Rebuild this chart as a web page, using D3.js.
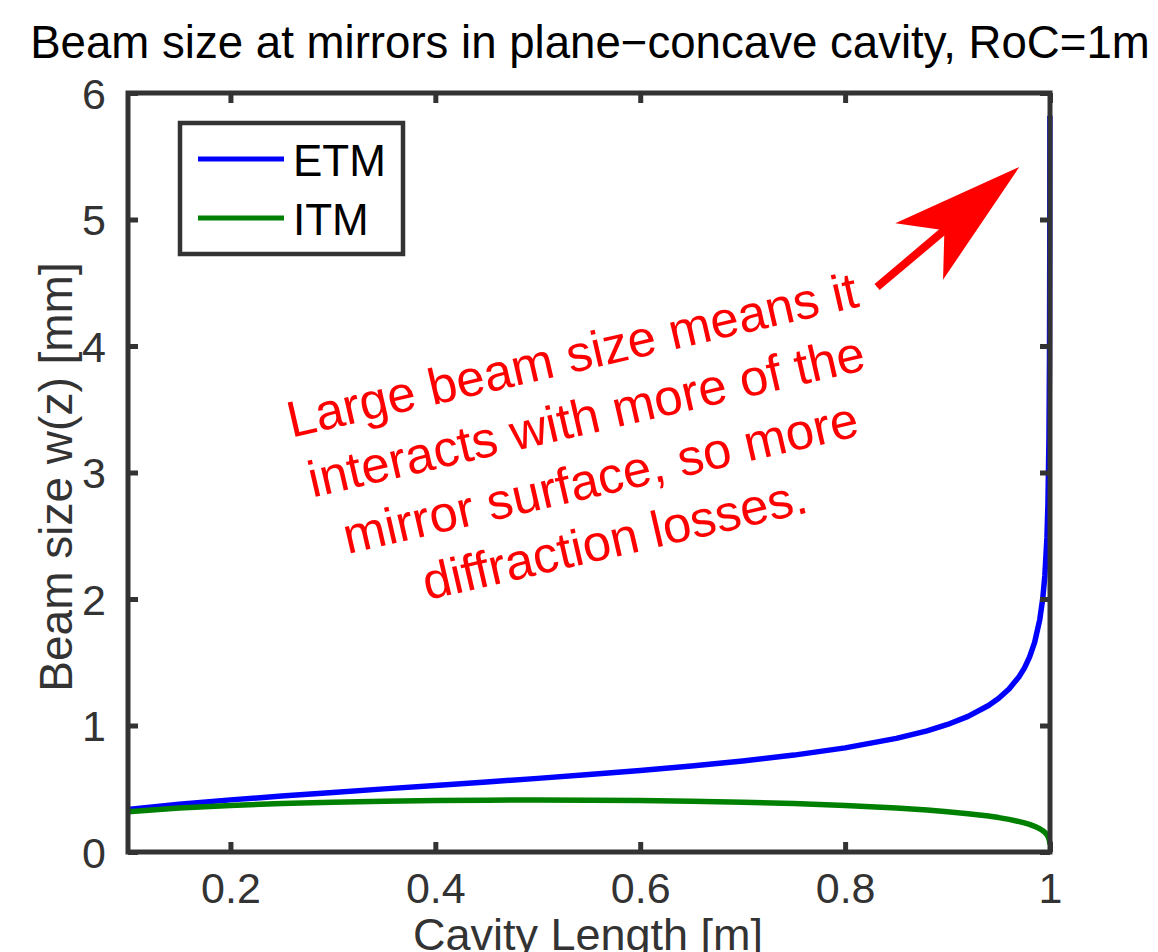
<!DOCTYPE html>
<html><head><meta charset="utf-8">
<script src="https://cdn.jsdelivr.net/npm/d3@7"></script>
<style>body{margin:0;background:#fff}svg{display:block}text{font-family:"Liberation Sans",Arial,sans-serif}</style>
</head><body><svg id="c" width="1158" height="952"></svg>
<script>
// Cavity length samples [m]
const cavityLength = [0.10,0.15,0.20,0.25,0.30,0.35,0.40,0.45,0.50,0.55,0.60,0.65,0.70,0.75,0.80,0.85,0.88,0.90,0.92,0.94,0.95,0.96,0.97,0.975,0.98,0.985,0.99,0.993,0.995,0.997,0.998,0.999,0.9995,0.9998,0.9999];
// Beam size at ETM [mm]
const etmSize = [0.336,0.377,0.412,0.442,0.471,0.499,0.526,0.554,0.582,0.612,0.644,0.679,0.719,0.766,0.823,0.898,0.958,1.008,1.072,1.158,1.215,1.288,1.388,1.454,1.540,1.657,1.836,2.009,2.186,2.485,2.751,3.272,3.892,4.894,5.82];
// Beam size at ITM [mm]
const itmSize = [0.319,0.348,0.368,0.383,0.394,0.402,0.407,0.410,0.412,0.410,0.407,0.402,0.394,0.383,0.368,0.348,0.332,0.319,0.303,0.284,0.272,0.258,0.240,0.230,0.218,0.203,0.184,0.168,0.155,0.136,0.123,0.103,0.087,0.069,0.058];
const seriesNames = ["ETM","ITM"];
const seriesColors = ["#0000ff","#008000"];
const xTicks = [0.2,0.4,0.6,0.8,1];
const yTicks = [0,1,2,3,4,5,6];
const titleText = "Beam size at mirrors in plane\u2212concave cavity, RoC=1m";
const xLabel = "Cavity Length [m]";
const yLabel = "Beam size w(z) [mm]";
const noteLines = ["Large beam size means it","interacts with more of the","mirror surface, so more","diffraction losses."];
const arrowFrom = [0.8312, 4.466];
const arrowTo = [0.970, 5.415];

const svg = d3.select("#c");
const L = 128, R = 1050, T = 93, B = 852;
const x = d3.scaleLinear().domain([0.1,1]).range([L,R]);
const y = d3.scaleLinear().domain([0,6]).range([B,T]);
const axisCol = "#333";

// title
const title = svg.append("text").attr("x",(30+1150)/2).attr("y",58).attr("text-anchor","middle")
  .attr("fill","#000").attr("font-size",36).text(titleText);
const tw = title.node().getComputedTextLength();
title.attr("font-size", 36*1120/tw);

// series
const series = [etmSize, itmSize];
const line = d3.line().x(d=>x(d[0])).y(d=>y(d[1]));
series.forEach((vals,i)=>{
  svg.append("path").datum(cavityLength.map((c,j)=>[c,vals[j]]))
    .attr("d",line).attr("fill","none").attr("stroke",seriesColors[i])
    .attr("stroke-width",5.5).attr("stroke-linejoin","round");
});

// axes
const tickLen = 10;
const gx = svg.append("g").attr("transform",`translate(0,${B})`)
  .call(d3.axisBottom(x).tickValues(xTicks).tickFormat(d3.format("")).tickSizeInner(-tickLen).tickSizeOuter(0).tickPadding(20));
const gxt = svg.append("g").attr("transform",`translate(0,${T})`)
  .call(d3.axisTop(x).tickValues(xTicks).tickFormat("").tickSizeInner(-tickLen).tickSizeOuter(0));
const gy = svg.append("g").attr("transform",`translate(${L},0)`)
  .call(d3.axisLeft(y).tickValues(yTicks).tickFormat(d3.format("d")).tickSizeInner(-tickLen).tickSizeOuter(0).tickPadding(22));
const gyr = svg.append("g").attr("transform",`translate(${R},0)`)
  .call(d3.axisRight(y).tickValues(yTicks).tickFormat("").tickSizeInner(-tickLen).tickSizeOuter(0));
[gx,gxt,gy,gyr].forEach(g=>{
  g.select(".domain").remove();
  g.selectAll(".tick line").attr("stroke",axisCol).attr("stroke-width",5);
  g.selectAll(".tick text").attr("fill",axisCol).attr("font-size",43)
    .attr("font-family",'"Liberation Sans",Arial,sans-serif');
});
gy.selectAll(".tick text").attr("dy","0.36em");
svg.append("rect").attr("x",L).attr("y",T).attr("width",R-L).attr("height",B-T)
  .attr("fill","none").attr("stroke",axisCol).attr("stroke-width",5);

// axis labels
svg.append("text").attr("x",588).attr("y",950).attr("text-anchor","middle")
  .attr("fill",axisCol).attr("font-size",45).text(xLabel);
svg.append("text").attr("transform","translate(72,477) rotate(-90)").attr("text-anchor","middle")
  .attr("fill",axisCol).attr("font-size",46).text(yLabel);

// legend
svg.append("rect").attr("x",180).attr("y",123).attr("width",223).attr("height",131)
  .attr("fill","#fff").attr("stroke",axisCol).attr("stroke-width",4.5);
seriesNames.forEach((n,i)=>{
  const yy = 159 + i*59;
  svg.append("line").attr("x1",198).attr("x2",284).attr("y1",yy).attr("y2",yy)
    .attr("stroke",seriesColors[i]).attr("stroke-width",5);
  svg.append("text").attr("x",293).attr("y",yy+17).attr("font-size",44).attr("fill","#000").text(n);
});

// annotation text
const note = svg.append("g").attr("transform","translate(576,372) rotate(-13)");
noteLines.forEach((t,i)=>{
  note.append("text").attr("x",0).attr("y",i*63).attr("text-anchor","middle")
    .attr("font-size",51).attr("fill","#ff0000").text(t);
});

// arrow
const p0 = [x(arrowFrom[0]), y(arrowFrom[1])], p1 = [x(arrowTo[0]), y(arrowTo[1])];
const dx = p1[0]-p0[0], dy = p1[1]-p0[1], len = Math.hypot(dx,dy);
const ux = dx/len, uy = dy/len, nx = -uy, ny = ux;
const headLen = 131, headHalf = 37, notch = 98;
const notchPt = [p1[0]-ux*notch, p1[1]-uy*notch];
svg.append("line").attr("x1",p0[0]).attr("y1",p0[1]).attr("x2",notchPt[0]+ux*4).attr("y2",notchPt[1]+uy*4)
  .attr("stroke","#ff0000").attr("stroke-width",8);
const base = [p1[0]-ux*headLen, p1[1]-uy*headLen];
svg.append("path").attr("d", d3.line()([
  p1,
  [base[0]+nx*headHalf, base[1]+ny*headHalf],
  notchPt,
  [base[0]-nx*headHalf, base[1]-ny*headHalf]
]) + "Z").attr("fill","#ff0000");
</script></body></html>
